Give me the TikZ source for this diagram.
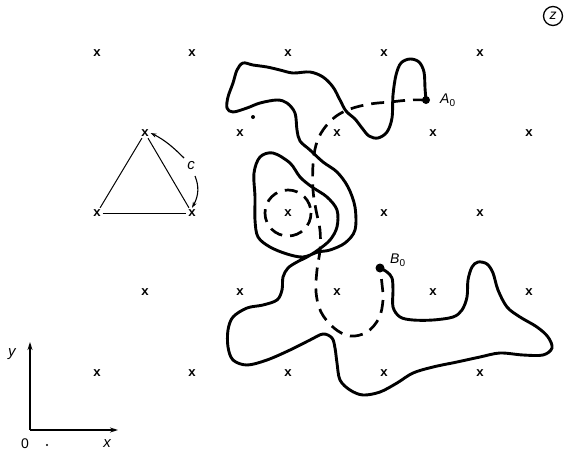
\documentclass[tikz,border=0pt]{standalone}
\usepackage{fontspec}
\newfontfamily\labfont{Liberation Sans}
\newfontfamily\markfont{Liberation Mono}
\usetikzlibrary{arrows.meta}
\begin{document}
\begin{tikzpicture}[x=1pt,y=-1pt,
  gridx/.style={font=\fontsize{13}{13}\selectfont\markfont\bfseries, inner sep=1.5pt},
  lbl/.style={font=\fontsize{14}{14}\selectfont\labfont, inner sep=0pt},
  chain/.style={line width=2.9pt, line cap=round, line join=round},
  dchain/.style={line width=2.7pt, line cap=butt, dash pattern=on 13pt off 8pt},
  thin/.style={line width=1pt},
  axis/.style={line width=1.3pt, -{Stealth[length=8pt,width=5pt]}},
  carrow/.style={line width=1.1pt, -{Stealth[length=6pt,width=4pt]}}
]
\useasboundingbox (0,0) rectangle (568,456);
% lattice of x marks
\foreach \x [count=\i] in {97,192,288,384,480} {
  \node[gridx] (ra\i) at (\x,53) {x};
  \node[gridx] (rc\i) at (\x,213) {x};
  \node[gridx] (re\i) at (\x,373) {x};
}
\foreach \x [count=\i] in {145,240,337,433,529} {
  \node[gridx] (rb\i) at (\x,133) {x};
  \node[gridx] (rd\i) at (\x,292) {x};
}
% triangle
\draw[thin] (rb1) -- (rc1);
\draw[thin] (rb1) -- (rc2);
\draw[thin] (rc1) -- (rc2);
\node[lbl, font=\fontsize{15}{15}\selectfont\labfont\itshape] (c) at (191,166) {c};
\coordinate (ca) at (184,158);
\coordinate (cb) at (195,176);
\draw[carrow] (ca) .. controls (174,148) and (165,140) .. (rb1.east);
\draw[carrow] (cb) .. controls (199,186) and (199,195) .. (rc2.north);
% z label
\node[draw, circle, line width=1.3pt, minimum size=19pt, inner sep=0pt, font=\fontsize{14}{14}\selectfont\labfont\itshape] (z) at (553,16) {z};
% axes
\coordinate (o) at (30,430);
\coordinate (xe) at (118,430);
\coordinate (ye) at (30,342);
\draw[axis] (o) -- (xe);
\draw[axis] (o) -- (ye);
\node[lbl, font=\fontsize{15}{15}\selectfont\labfont\itshape] (ylab) at (12,354) {y};
\node[lbl, font=\fontsize{15}{15}\selectfont\labfont\itshape] (xlab) at (107,444) {x};
\node[lbl] (zero) at (25,444) {0};
\fill (47,445) circle (1.2);
% small dot
\fill (253,117) circle (2);
% end points
\coordinate (A) at (426,100);
\coordinate (B) at (380,268);
\fill (A) circle (4);
\fill (B) circle (4.5);
\node[lbl, anchor=west] (Alab) at (440,100) {\itshape A\raisebox{-0.35ex}{\fontsize{10}{10}\selectfont\upshape 0}};
\node[lbl, anchor=west] (Blab) at (390,260) {\itshape B\raisebox{-0.35ex}{\fontsize{10}{10}\selectfont\upshape 0}};
% dashed primitive path
\draw[dchain] plot[smooth, tension=0.6] coordinates {
 (426,100) (410,100) (390,102) (370,104) (350,109) (335,117) (323,130)
 (316,145) (313,165) (313,190) (316,210) (320,230) (320,250) (317,270)
 (316,292) (321,312) (334,328) (350,336) (367,332) (379,318) (383,300)
 (382,284) (380,268)};
\draw[dchain] (288,213) circle (23);
% solid chain
\draw[chain] plot[smooth, tension=0.55] coordinates {
 (426,100) (425,88) (424,72) (419,62) (410,59) (401,63) (396,75) (393,95)
 (392,118) (387,132) (378,138) (369,136) (362,128) (355,119) (346,111)
 (340,100) (333,87) (323,77) (310,72) (293,73) (280,70) (267,67) (253,65)
 (243,63) (237,70) (233,83) (228,97) (227,108) (233,112) (247,108)
 (260,103) (277,100) (287,103) (295,113) (297,130) (300,141) (310,150)
 (323,162) (337,172) (348,187) (355,207) (355,230) (345,243) (330,250)
 (318,252) (303,257) (287,254) (270,247) (258,237) (255,220) (255,197)
 (254,173) (260,157) (273,153) (290,163) (300,177) (312,187) (327,197)
 (337,210) (337,227) (330,240) (318,250) (307,257) (297,262) (288,268)
 (283,277) (282,290) (277,300) (263,305) (247,308) (233,317) (228,330)
 (228,347) (233,360) (247,365) (267,360) (290,350) (310,340) (323,334)
 (332,338) (335,348) (337,363) (340,380) (350,390) (363,395) (380,392)
 (397,383) (413,373) (433,367) (457,362) (480,357) (500,353) (523,355)
 (543,355) (552,348) (548,337) (537,327) (520,317) (507,307) (498,290)
 (493,273) (487,264) (478,262) (472,267) (468,280) (467,297) (462,310)
 (453,317) (433,320) (413,320) (400,317) (393,307) (393,290) (392,278)
 (387,272) (380,268)};
\end{tikzpicture}
\end{document}
